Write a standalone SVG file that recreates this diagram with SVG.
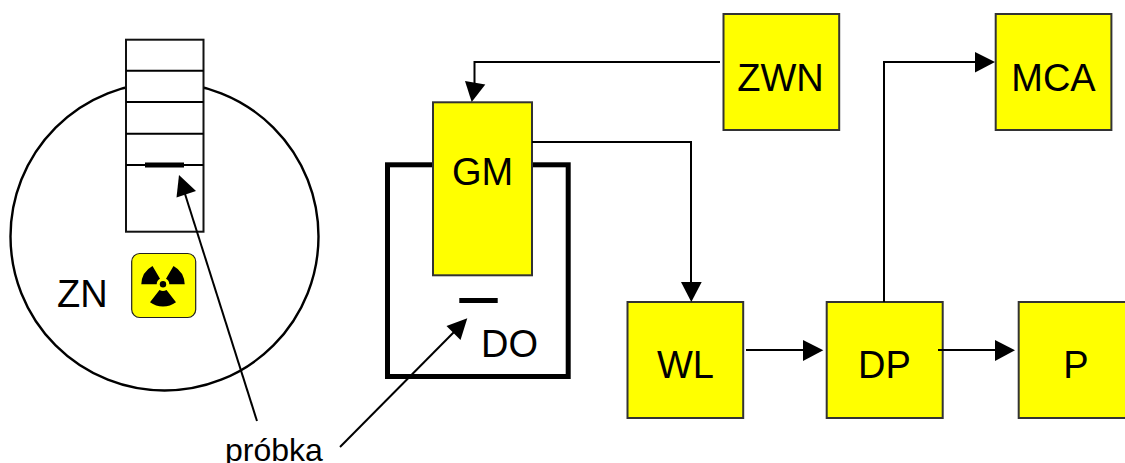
<svg xmlns="http://www.w3.org/2000/svg" width="1125" height="463" viewBox="0 0 1125 463">
<style>
text{font-family:"Liberation Sans",Arial,sans-serif;font-size:38px;fill:#000}
.box{fill:#ff0;stroke:#333;stroke-width:2}
.ln{fill:none;stroke:#000;stroke-width:2}
.thin{fill:none;stroke:#000;stroke-width:2}
.head{fill:#000;stroke:none}
</style>
<rect width="1125" height="463" fill="#fff"/>
<g id="ZN">
<circle cx="164.5" cy="236.5" r="154" fill="#fff" stroke="#000" stroke-width="2.4"/>
<text x="57" y="307">ZN</text>
</g>
<g id="tube">
<rect x="126" y="39.7" width="77.5" height="192" fill="#fff" stroke="#111" stroke-width="2"/>
<path class="thin" d="M126 70.7H203.5M126 102H203.5M126 133.8H203.5M126 165H203.5"/>
<rect x="145" y="162.5" width="39" height="5" fill="#000"/>
</g>
<g id="radiation">
<rect x="131.7" y="253.5" width="64" height="64" rx="8" fill="#ff0" stroke="#222" stroke-width="1.2"/>
<circle cx="163" cy="284.3" r="3.2" fill="#000"/>
<path fill="#000" d="M141.3 284.3A21.7 21.7 0 0 1 152.5 266L160 278.8A6.3 6.3 0 0 0 156.7 284.3Z"/>
<path fill="#000" d="M184.7 284.3A21.7 21.7 0 0 0 173.5 266L166 278.8A6.3 6.3 0 0 1 169.3 284.3Z"/>
<path fill="#000" d="M150 302.3A22 22 0 0 0 176 302.3L166.5 290A6.5 6.5 0 0 1 159.5 290Z"/>
</g>
<g id="DO">
<rect x="387.5" y="164.8" width="180.7" height="211.7" fill="#fff" stroke="#000" stroke-width="5"/>
<rect x="459.3" y="298" width="38.4" height="5" fill="#000"/>
<text x="481" y="356.7">DO</text>
</g>
<g id="GM"><rect class="box" x="433" y="102.3" width="99" height="173" stroke="#000"/><text x="482.5" y="185" text-anchor="middle">GM</text></g>
<g id="ZWN"><rect class="box" x="723.5" y="14" width="115.7" height="116"/><text x="780.5" y="90.7" text-anchor="middle">ZWN</text></g>
<g id="MCA"><rect class="box" x="995.7" y="14" width="115.7" height="116"/><text x="1053.5" y="90.7" text-anchor="middle">MCA</text></g>
<g id="WL"><rect class="box" x="627.5" y="302" width="115.7" height="116"/><text x="685.5" y="378.3" text-anchor="middle">WL</text></g>
<g id="DP"><rect class="box" x="826.7" y="302" width="116" height="116"/><text x="884.5" y="378.3" text-anchor="middle">DP</text></g>
<g id="P"><rect class="box" x="1018.7" y="302" width="116" height="116"/><text x="1076" y="378.3" text-anchor="middle">P</text></g>
<g id="connectors">
<path class="ln" d="M720 62H474.5V84"/>
<polygon class="head" points="471.7,102 465,81 485.3,84.5"/>
<path class="ln" d="M532 142H691V284"/>
<polygon class="head" points="691.3,302 681,282 701.7,282"/>
<path class="ln" d="M884 302V62H978"/>
<polygon class="head" points="995,62 975,52 975,72.5"/>
<path class="ln" d="M746 350H806"/>
<polygon class="head" points="823.3,350.3 803,340 803,361"/>
<path class="ln" d="M938 350H998"/>
<polygon class="head" points="1015,350.3 995,340 995,361"/>
<path class="ln" d="M257 421L185 194"/>
<polygon class="head" points="179,175 176.5,197.5 196,191"/>
<path class="ln" d="M340 447L455 331"/>
<polygon class="head" points="467.3,318.3 446.5,326 460.5,340"/>
</g>
<text x="225" y="461" style="font-size:32px">próbka</text>
</svg>
